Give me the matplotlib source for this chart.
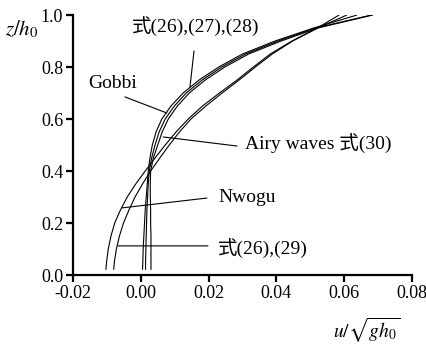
import matplotlib
matplotlib.use("Agg")
import matplotlib.pyplot as plt

plt.rcParams["font.family"] = ["Liberation Serif", "Noto Sans CJK JP"]
plt.rcParams["mathtext.fontset"] = "stix"
plt.rcParams["axes.unicode_minus"] = False

# relative depth levels z/h0 shared by every profile
z_levels = [0.02, 0.05, 0.10, 0.15, 0.20, 0.25, 0.30, 0.35, 0.40, 0.45, 0.50,
            0.55, 0.60, 0.65, 0.70, 0.75, 0.80, 0.85, 0.90, 0.95, 1.00]

# horizontal velocity u/sqrt(g h0) for each model
u_gobbi = [0.0005, 0.0006, 0.0007, 0.0009, 0.0011, 0.0013, 0.0016, 0.0019, 0.0022,
           0.0027, 0.0034, 0.0045, 0.0062, 0.0089, 0.0125, 0.0172, 0.0230, 0.0300,
           0.0396, 0.0510, 0.0638]
u_eq26_27_28 = [0.0014, 0.0014, 0.0015, 0.0016, 0.0017, 0.0018, 0.0020, 0.0022, 0.0025,
                0.0032, 0.0042, 0.0054, 0.0072, 0.0099, 0.0134, 0.0181, 0.0239, 0.0309,
                0.0405, 0.0516, 0.0680]
u_airy = [0.0030, 0.0030, 0.0030, 0.0030, 0.0029, 0.0029, 0.0028, 0.0028, 0.0029,
          0.0037, 0.0050, 0.0063, 0.0081, 0.0108, 0.0143, 0.0190, 0.0248, 0.0318,
          0.0414, 0.0522, 0.0685]
u_nwogu = [-0.0103, -0.0101, -0.0096, -0.0088, -0.0077, -0.0060, -0.0040, -0.0015, 0.0013,
           0.0042, 0.0072, 0.0104, 0.0140, 0.0182, 0.0232, 0.0284, 0.0332, 0.0382,
           0.0446, 0.0521, 0.0585]
u_eq26_29 = [-0.0080, -0.0078, -0.0072, -0.0063, -0.0051, -0.0035, -0.0017, 0.0005, 0.0029,
             0.0056, 0.0084, 0.0114, 0.0148, 0.0192, 0.0240, 0.0290, 0.0338, 0.0388,
             0.0448, 0.0522, 0.0608]

x_ticks = [-0.02, 0.00, 0.02, 0.04, 0.06, 0.08]
y_ticks = [0.0, 0.2, 0.4, 0.6, 0.8, 1.0]

W, H = 426, 349
fig = plt.figure(figsize=(W / 100, H / 100), dpi=100)
ax = fig.add_axes([73 / W, 1 - 275 / H, (412 - 73) / W, (275 - 15) / H])

for u in (u_gobbi, u_eq26_27_28, u_airy, u_nwogu, u_eq26_29):
    ax.plot(u, z_levels, color="black", lw=0.8, solid_capstyle="butt",
            solid_joinstyle="round")

ax.set_xlim(x_ticks[0], x_ticks[-1])
ax.set_ylim(y_ticks[0], y_ticks[-1])
ax.set_xticks(x_ticks)
ax.set_yticks(y_ticks)
ax.set_xticklabels([f"{v:.2f}" for v in x_ticks])
ax.set_yticklabels([f"{v:.1f}" for v in y_ticks])
ax.tick_params(direction="out", length=5, width=1.6, labelsize=13, pad=2)
for side in ("top", "right"):
    ax.spines[side].set_visible(False)
for side in ("left", "bottom"):
    ax.spines[side].set_linewidth(1.6)

# leader lines and labels
leaders = [
    ("式(26),(27),(28)", (-0.0026, 0.931), (0.0157, 0.862), (0.0145, 0.723)),
    ("Gobbi", (-0.0156, 0.719), (-0.0047, 0.685), (0.0077, 0.623)),
    ("Airy waves 式(30)", (0.0307, 0.481), (0.0284, 0.496), (0.0066, 0.531)),
    ("Nwogu", (0.0228, 0.281), (0.0195, 0.296), (-0.0056, 0.258)),
    ("式(26),(29)", (0.0228, 0.077), (0.0198, 0.112), (-0.0067, 0.112)),
]
for text, pos, start, end in leaders:
    ax.annotate("", xy=end, xytext=start,
                arrowprops=dict(arrowstyle="-", lw=0.8, color="black",
                                shrinkA=0, shrinkB=0))
    ax.text(pos[0], pos[1], text, fontsize=14, ha="left", va="baseline")

fig.text(22 / W, 1 - 29 / H, r"$z/h_0$", fontsize=15, ha="center", va="center")
fig.text(367 / W, 1 - 330 / H, r"$u/\sqrt{gh_0}$", fontsize=14, ha="center", va="center")

fig.savefig("out.png", dpi=100, facecolor="white")
